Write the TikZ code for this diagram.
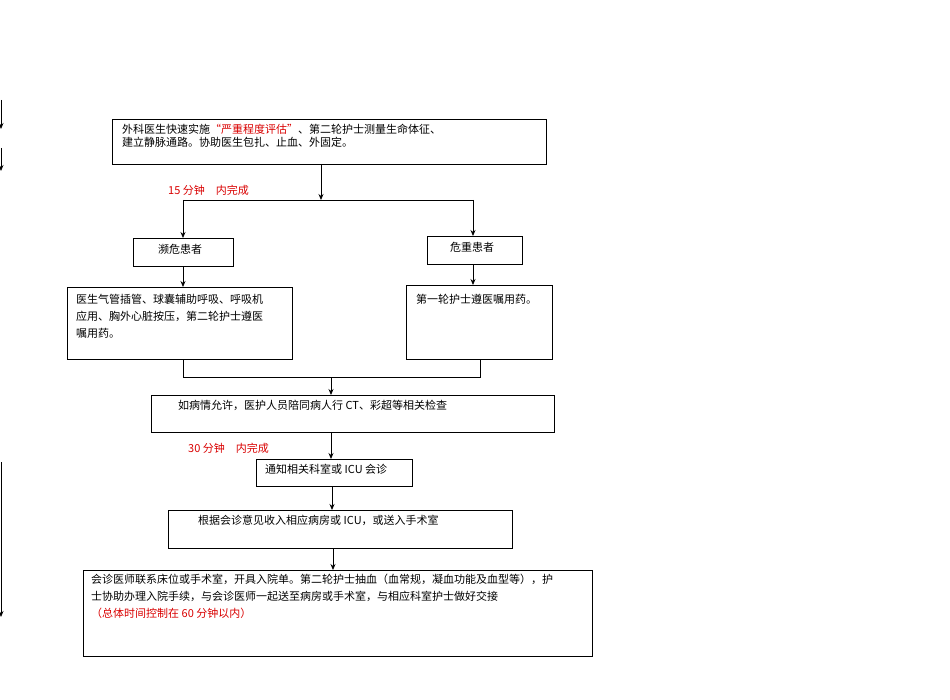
\documentclass[tikz,border=0pt]{standalone}
\usepackage{fontspec}
\setmainfont{Noto Sans CJK SC}
\usetikzlibrary{arrows.meta}
\begin{document}
\begin{tikzpicture}[x=1pt,y=-1pt,
 box/.style={draw,line width=0.8pt},
 txt/.style={anchor=north west,inner sep=0pt,font=\fontsize{11}{17}\selectfont,align=left},
 red/.style={text=red!85!black},
 arr/.style={-{Stealth[length=6pt,width=5pt]},line width=0.8pt},
 ln/.style={line width=0.8pt}]
\useasboundingbox (0,0) rectangle (950,700);
% left fragments
\coordinate (l1a) at (1,100); \coordinate (l1b) at (1,129);
\coordinate (l2a) at (1,148); \coordinate (l2b) at (1,171);
\coordinate (l3a) at (1,462); \coordinate (l3b) at (1,617);
\draw[arr] (l1a)--(l1b); \draw[arr] (l2a)--(l2b); \draw[arr] (l3a)--(l3b);
% boxes
\node[box,minimum width=434,minimum height=45,anchor=north west] (A) at (112,119) {};
\node[txt] at (122,124) {外科医生快速实施{\color{red!85!black}“严重程度评估”}、第二轮护士测量生命体征、\\[-4pt]建立静脉通路。协助医生包扎、止血、外固定。};
\node[box,minimum width=100,minimum height=28,anchor=north west] (B1) at (133,238) {};
\node[txt] at (158,244) {濒危患者};
\node[box,minimum width=95,minimum height=28,anchor=north west] (B2) at (427,236) {};
\node[txt] at (450,242) {危重患者};
\node[box,minimum width=225,minimum height=72,anchor=north west] (C1) at (67,287) {};
\node[txt] at (76,294) {医生气管插管、球囊辅助呼吸、呼吸机\\应用、胸外心脏按压，第二轮护士遵医\\嘱用药。};
\node[box,minimum width=146,minimum height=74,anchor=north west] (C2) at (406,285) {};
\node[txt] at (416,294) {第一轮护士遵医嘱用药。};
\node[box,minimum width=403,minimum height=37,anchor=north west] (D) at (151,395) {};
\node[txt] at (178,400) {如病情允许，医护人员陪同病人行 CT、彩超等相关检查};
\node[box,minimum width=156,minimum height=27,anchor=north west] (E) at (256,459) {};
\node[txt] at (265,464) {通知相关科室或 ICU 会诊};
\node[box,minimum width=344,minimum height=38,anchor=north west] (F) at (168,510) {};
\node[txt] at (198,515) {根据会诊意见收入相应病房或 ICU，或送入手术室};
\node[box,minimum width=509,minimum height=86,anchor=north west] (G) at (83,570) {};
\node[txt] at (91,574) {会诊医师联系床位或手术室，开具入院单。第二轮护士抽血（血常规，凝血功能及血型等），护\\士协助办理入院手续，与会诊医师一起送至病房或手术室，与相应科室护士做好交接\\{\color{red!85!black}（总体时间控制在 60 分钟以内）}};
% labels
\node[txt,red] at (168,185) {15 分钟　内完成};
\node[txt,red] at (188,443) {30 分钟　内完成};
% connectors
\coordinate (j1) at (321,200);
\coordinate (jl) at (183,200); \coordinate (jr) at (473,200);
\draw[arr] (321,164)--(j1);
\draw[ln] (jl)--(jr);
\draw[arr] (jl)--(B1.north-|jl);
\draw[arr] (jr)--(B2.north-|jr);
\draw[arr] (B1.south-|jl)--(C1.north-|jl);
\draw[arr] (B2.south-|jr)--(C2.north-|jr);
\coordinate (k1) at (183,377); \coordinate (k2) at (480,377); \coordinate (k3) at (331,377);
\draw[ln] (C1.south-|k1)--(k1)--(k2)--(C2.south-|k2);
\draw[arr] (k3)--(D.north-|k3);
\draw[arr] (D.south-|k3)--(E.north-|k3);
\coordinate (m) at (332,0);
\draw[arr] (E.south-|m)--(F.north-|m);
\coordinate (n) at (333,0);
\draw[arr] (F.south-|n)--(G.north-|n);
\end{tikzpicture}
\end{document}
